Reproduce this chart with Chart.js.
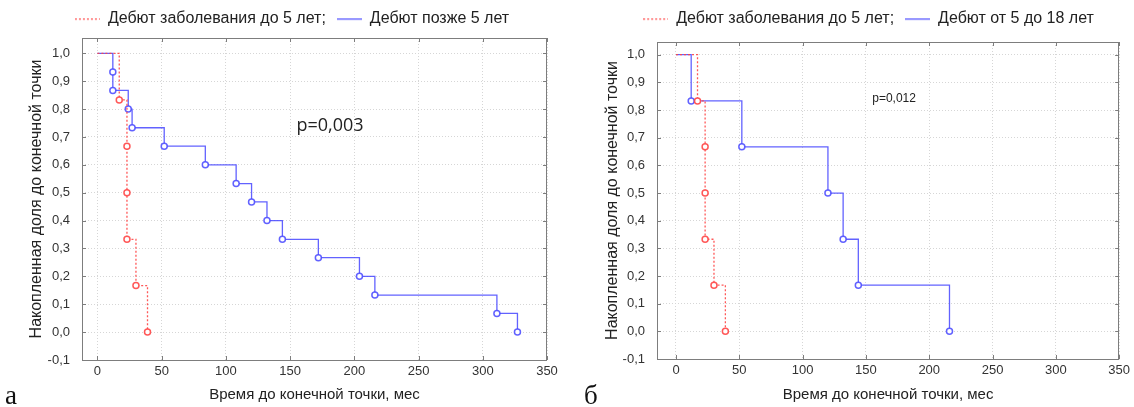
<!DOCTYPE html>
<html>
<head>
<meta charset="utf-8">
<script src="https://cdn.jsdelivr.net/npm/chart.js@4.4.0/dist/chart.umd.min.js"></script>
<style>
  body { margin: 0; width: 1134px; height: 407px; background: #fff; overflow: hidden; position: relative; }
  .panel { position: absolute; top: 0; }
  .letra { position: absolute; font-family: 'Liberation Serif', serif; font-size: 27px; color: #111; line-height: 1; }
</style>
</head>
<body>
<div class="panel" style="left:0"><canvas id="graficaA" width="584" height="407"></canvas></div>
<div class="panel" style="left:590px"><canvas id="graficaB" width="544" height="407"></canvas></div>
<div class="letra" style="left:5px; top:382px">а</div>
<div class="letra" style="left:584px; top:382px">б</div>
<script>
const xTicks = [0, 50, 100, 150, 200, 250, 300, 350];
const yTicks = [-0.1, 0, 0.1, 0.2, 0.3, 0.4, 0.5, 0.6, 0.7, 0.8, 0.9, 1.0];

// а: дебют до 5 лет / позже 5 лет (время в мес, накопленная доля)
const tiempoA1 = [0, 17, 23, 23, 23, 30, 39];
const dolyaA1 = [1.0, 0.833, 0.667, 0.5, 0.333, 0.167, 0.0];
const tiempoA2 = [0, 12, 12, 24, 27, 52, 84, 108, 120, 132, 144, 172, 204, 216, 311, 327];
const dolyaA2 = [1.0, 0.933, 0.867, 0.8, 0.733, 0.667, 0.6, 0.533, 0.467, 0.4, 0.333, 0.267, 0.2, 0.133, 0.067, 0.0];

// б: дебют до 5 лет / от 5 до 18 лет
const tiempoB1 = [0, 17, 23, 23, 23, 30, 39];
const dolyaB1 = [1.0, 0.833, 0.667, 0.5, 0.333, 0.167, 0.0];
const tiempoB2 = [0, 12, 52, 120, 132, 144, 216];
const dolyaB2 = [1.0, 0.833, 0.667, 0.5, 0.333, 0.167, 0.0];

const fuente = "'Liberation Sans', Arial, sans-serif";
const rojo = 'rgba(255, 70, 70, 0.9)';
const azul = 'rgba(70, 70, 255, 0.85)';

function pares(t, s) {
  return t.map((v, i) => ({ x: v, y: s[i] }));
}

// muestra de línea para la leyenda (punteada o continua)
function muestra(color, dash) {
  const c = document.createElement('canvas');
  c.width = 25;
  c.height = 3;
  const g = c.getContext('2d');
  g.strokeStyle = color;
  g.lineWidth = 1.2;
  g.setLineDash(dash);
  g.beginPath();
  g.moveTo(0, 1.5);
  g.lineTo(25, 1.5);
  g.stroke();
  return c;
}
const muestras = [muestra('#ff4646', [2, 2]), muestra('#4646ff', [])];

// рамка вокруг области, внутренние засечки и подпись p
const marco = {
  id: 'marco',
  beforeInit(chart, args, opts) {
    const fitOrig = chart.legend.fit;
    chart.legend.fit = function () {
      fitOrig.bind(chart.legend)();
      this.height += opts.extraLegend || 0;
    };
  },
  afterDatasetsDraw(chart, args, opts) {
    const { ctx, chartArea: a, scales: { x, y } } = chart;
    ctx.save();
    ctx.strokeStyle = '#7d7d7d';
    ctx.lineWidth = 1;
    ctx.strokeRect(Math.round(a.left) + 0.5, Math.round(a.top) + 0.5,
      Math.round(a.right - a.left) - 1, Math.round(a.bottom - a.top));
    ctx.beginPath();
    xTicks.forEach(v => {
      const px = Math.round(x.getPixelForValue(v)) + 0.5;
      ctx.moveTo(px, a.top);
      ctx.lineTo(px, a.top + 4);
      ctx.moveTo(px, a.bottom);
      ctx.lineTo(px, a.bottom - 4);
    });
    yTicks.forEach(v => {
      const py = Math.round(y.getPixelForValue(v)) + 0.5;
      ctx.moveTo(a.left, py);
      ctx.lineTo(a.left + 4, py);
      ctx.moveTo(a.right, py);
      ctx.lineTo(a.right - 4, py);
    });
    ctx.stroke();
    ctx.fillStyle = '#222';
    ctx.font = opts.font;
    ctx.textBaseline = 'middle';
    ctx.textAlign = 'left';
    ctx.fillText(opts.texto, x.getPixelForValue(opts.x), y.getPixelForValue(opts.y));
    ctx.restore();
  }
};

function crearGrafica(id, cfg) {
  const serie = (label, t, s, color, dash) => ({
    label: label,
    data: pares(t, s),
    borderColor: color,
    borderWidth: 1.3,
    borderDash: dash,
    stepped: true,
    fill: false,
    pointRadius: c => c.dataIndex === 0 ? 0 : 3,
    pointBorderWidth: 1.5,
    pointBorderColor: color,
    pointBackgroundColor: '#fff'
  });

  return new Chart(document.getElementById(id), {
    type: 'line',
    data: {
      datasets: [
        serie(cfg.etiquetas[0], cfg.t1, cfg.s1, rojo, [2, 2]),
        serie(cfg.etiquetas[1], cfg.t2, cfg.s2, azul, [])
      ]
    },
    options: {
      responsive: false,
      animation: false,
      layout: { padding: { left: cfg.izq, right: cfg.der, top: 0, bottom: 0 } },
      plugins: {
        tooltip: { enabled: false },
        legend: {
          labels: {
            font: { family: fuente, size: 16 },
            color: '#222',
            usePointStyle: true,
            pointStyleWidth: 25,
            padding: 11,
            generateLabels: chart => {
              const items = Chart.defaults.plugins.legend.labels.generateLabels(chart);
              items.forEach(it => { it.pointStyle = muestras[it.datasetIndex]; });
              return items;
            }
          }
        },
        marco: { extraLegend: cfg.extraLegend, texto: cfg.p, font: cfg.pFont, x: 155, y: cfg.pY }
      },
      scales: {
        x: {
          type: 'linear',
          min: cfg.xMin,
          max: 350,
          afterBuildTicks: s => { s.ticks = xTicks.map(v => ({ value: v })); },
          afterFit: s => { s.height = cfg.altoX; },
          grid: { color: '#d6d6d6', drawTicks: false },
          border: { display: false, dash: [1, 2] },
          ticks: { font: { family: fuente, size: 13 }, color: '#333', padding: 4 },
          title: {
            display: true,
            text: 'Время до конечной точки, мес',
            font: { family: fuente, size: 15 },
            color: '#222',
            padding: { top: 0, bottom: 3 }
          }
        },
        y: {
          type: 'linear',
          min: -0.1,
          max: cfg.yMax,
          afterBuildTicks: s => { s.ticks = yTicks.map(v => ({ value: v })); },
          afterFit: s => { s.width = cfg.anchoY; },
          grid: { color: '#d6d6d6', drawTicks: false },
          border: { display: false, dash: [1, 2] },
          ticks: {
            font: { family: fuente, size: 13 },
            color: '#333',
            padding: 12,
            callback: v => v.toFixed(1).replace('.', ',')
          },
          title: {
            display: true,
            text: 'Накопленная доля до конечной точки',
            font: { family: fuente, size: 16 },
            color: '#222',
            padding: { top: cfg.tituloY, bottom: 0 }
          }
        }
      }
    },
    plugins: [marco]
  });
}

crearGrafica('graficaA', {
  etiquetas: ['Дебют заболевания до 5 лет;', 'Дебют позже 5 лет'],
  t1: tiempoA1, s1: dolyaA1, t2: tiempoA2, s2: dolyaA2,
  izq: 37, der: 37, anchoY: 45, tituloY: -9.6,
  altoX: 47, xMin: -12, yMax: 1.055, extraLegend: 1,
  p: 'p=0,003', pFont: "18px 'Open Sans', sans-serif", pY: 0.74
});

crearGrafica('graficaB', {
  etiquetas: ['Дебют заболевания до 5 лет;', 'Дебют от 5 до 18 лет'],
  t1: tiempoB1, s1: dolyaB1, t2: tiempoB2, s2: dolyaB2,
  izq: 27, der: 14, anchoY: 40, tituloY: -13.6,
  altoX: 48, xMin: -15, yMax: 1.046, extraLegend: 5,
  p: 'p=0,012', pFont: "12px 'Liberation Sans', sans-serif", pY: 0.84
});
</script>
</body>
</html>
